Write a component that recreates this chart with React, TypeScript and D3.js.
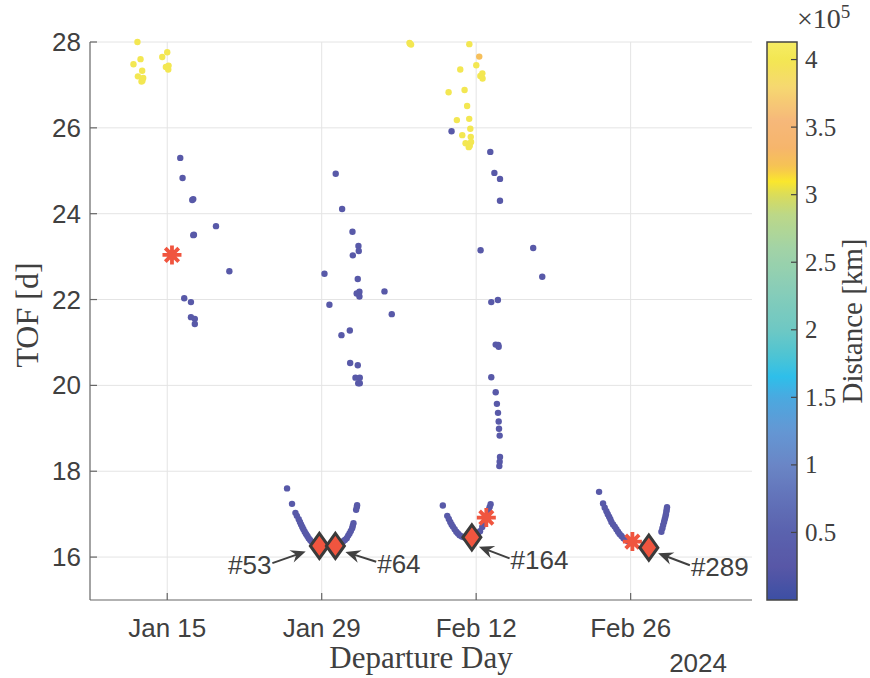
import React from "react";
import * as d3 from "d3";

// Departure day is counted as day-of-year 2024 (Jan 1 = 1), TOF in days, distance in km.
const xTickDays = [15, 29, 43, 57];
const xTickLabels = ["Jan 15", "Jan 29", "Feb 12", "Feb 26"];
const yTicks = [16, 18, 20, 22, 24, 26, 28];
const cbarTicks = [0.5, 1, 1.5, 2, 2.5, 3, 3.5, 4];

// Far-side transfers (large distance)
const farPoints: [number, number, number][] = [
  [12.3, 28.0, 4.0e5], [15.0, 27.76, 4.0e5], [14.55, 27.65, 4.0e5], [12.58, 27.6, 4.0e5],
  [11.94, 27.48, 4.0e5], [15.12, 27.45, 4.0e5], [14.88, 27.42, 4.0e5], [15.09, 27.36, 4.0e5],
  [12.73, 27.33, 4.0e5], [12.34, 27.2, 4.0e5], [12.82, 27.16, 4.0e5], [12.67, 27.08, 4.0e5],
  [12.75, 27.1, 4.0e5],
  [36.96, 27.98, 4.0e5], [37.1, 27.94, 4.0e5], [37.0, 27.96, 4.0e5],
  [42.38, 27.95, 4.0e5], [43.28, 27.66, 3.25e5], [43.01, 27.46, 4.0e5], [43.56, 27.27, 4.0e5],
  [43.38, 27.21, 4.0e5], [43.58, 27.15, 4.0e5], [41.56, 27.36, 4.0e5], [41.95, 26.88, 4.0e5],
  [40.5, 26.83, 4.0e5], [42.18, 26.51, 4.0e5], [42.37, 26.21, 4.0e5], [41.25, 26.18, 4.0e5],
  [42.47, 25.98, 4.0e5], [41.74, 25.83, 4.0e5], [42.51, 25.79, 4.0e5], [42.04, 25.64, 4.0e5],
  [42.54, 25.67, 4.0e5], [42.33, 25.55, 4.0e5], [42.42, 25.58, 4.0e5],
];

// Near transfers, scattered branches
const nearScatter: [number, number, number][] = [
  [16.18, 25.3, 3.0e4], [16.39, 24.83, 3.0e4], [17.36, 24.34, 3.0e4], [17.27, 24.32, 3.0e4],
  [19.42, 23.71, 3.0e4], [17.42, 23.51, 3.0e4], [17.36, 23.5, 3.0e4], [20.63, 22.66, 3.0e4],
  [16.54, 22.03, 3.0e4], [17.15, 21.94, 3.0e4], [17.15, 21.59, 3.0e4], [17.5, 21.55, 3.0e4],
  [17.5, 21.43, 3.0e4],
  [30.27, 24.93, 3.0e4], [30.85, 24.11, 3.0e4], [31.79, 23.58, 3.0e4], [32.33, 23.25, 3.0e4],
  [32.36, 23.13, 3.0e4], [31.82, 23.03, 3.0e4], [29.25, 22.6, 3.0e4], [32.27, 22.48, 3.0e4],
  [34.69, 22.19, 3.0e4], [32.42, 22.18, 3.0e4], [32.17, 22.14, 3.0e4], [32.42, 22.07, 3.0e4],
  [29.7, 21.88, 3.0e4], [35.35, 21.66, 3.0e4], [31.55, 21.28, 3.0e4], [30.79, 21.17, 3.0e4],
  [31.58, 20.52, 3.0e4], [32.27, 20.47, 3.0e4], [32.06, 20.18, 3.0e4], [32.45, 20.18, 3.0e4],
  [32.31, 20.05, 3.0e4], [32.45, 20.05, 3.0e4],
  [40.77, 25.92, 3.0e4], [44.28, 25.44, 3.0e4], [44.65, 24.95, 3.0e4], [45.16, 24.81, 3.0e4],
  [45.16, 24.3, 3.0e4], [43.4, 23.15, 3.0e4], [48.17, 23.2, 3.0e4], [48.99, 22.53, 3.0e4],
  [44.37, 21.94, 3.0e4], [44.97, 21.99, 3.0e4], [44.77, 20.95, 3.0e4], [45.04, 20.9, 3.0e4],
  [45.0, 20.94, 3.0e4], [44.37, 20.19, 3.0e4], [44.77, 19.84, 3.0e4], [44.88, 19.57, 3.0e4],
  [44.98, 19.36, 3.0e4], [45.04, 19.16, 3.0e4], [45.07, 18.99, 3.0e4], [45.13, 18.83, 3.0e4],
  [45.16, 18.33, 3.0e4], [45.13, 18.22, 3.0e4], [45.1, 18.12, 3.0e4],
];

// Near transfers, minimum-TOF valleys
const nearValley: [number, number, number][] = [
  [25.86, 17.6, 3.0e4], [26.31, 17.24, 3.0e4], [26.62, 17.03, 3.0e4], [26.75, 16.96, 3.0e4],
  [26.92, 16.88, 3.0e4], [27.03, 16.82, 3.0e4], [27.13, 16.76, 3.0e4], [27.24, 16.7, 3.0e4],
  [27.34, 16.65, 3.0e4], [27.46, 16.59, 3.0e4], [27.58, 16.54, 3.0e4], [27.7, 16.49, 3.0e4],
  [27.82, 16.44, 3.0e4], [27.95, 16.4, 3.0e4], [28.07, 16.36, 3.0e4], [28.2, 16.33, 3.0e4],
  [28.34, 16.31, 3.0e4], [28.61, 16.27, 3.0e4],
  [30.95, 16.37, 3.0e4], [31.1, 16.4, 3.0e4], [31.27, 16.44, 3.0e4], [31.4, 16.5, 3.0e4],
  [31.52, 16.55, 3.0e4], [31.64, 16.61, 3.0e4], [31.76, 16.67, 3.0e4], [31.82, 16.73, 3.0e4],
  [31.88, 16.79, 3.0e4], [32.12, 17.1, 3.0e4], [32.18, 17.16, 3.0e4], [32.21, 17.21, 3.0e4],
  [39.98, 17.2, 3.0e4], [40.38, 16.96, 3.0e4], [40.52, 16.89, 3.0e4], [40.65, 16.82, 3.0e4],
  [40.77, 16.76, 3.0e4], [40.89, 16.71, 3.0e4], [41.05, 16.65, 3.0e4], [41.2, 16.59, 3.0e4],
  [41.35, 16.55, 3.0e4], [41.5, 16.51, 3.0e4], [41.7, 16.48, 3.0e4], [41.9, 16.46, 3.0e4],
  [44.31, 17.23, 3.0e4], [44.22, 17.16, 3.0e4], [44.13, 17.1, 3.0e4], [43.95, 16.95, 3.0e4],
  [43.75, 16.82, 3.0e4], [43.55, 16.7, 3.0e4], [43.35, 16.6, 3.0e4], [43.15, 16.53, 3.0e4],
  [42.95, 16.49, 3.0e4],
  [54.14, 17.52, 3.0e4], [54.5, 17.25, 3.0e4], [54.65, 17.15, 3.0e4], [54.81, 17.07, 3.0e4],
  [54.93, 17.0, 3.0e4], [55.05, 16.94, 3.0e4], [55.16, 16.88, 3.0e4], [55.26, 16.82, 3.0e4],
  [55.41, 16.76, 3.0e4], [55.56, 16.71, 3.0e4], [55.71, 16.65, 3.0e4], [55.86, 16.59, 3.0e4],
  [56.0, 16.54, 3.0e4], [56.17, 16.49, 3.0e4], [56.35, 16.44, 3.0e4], [56.55, 16.4, 3.0e4],
  [56.75, 16.37, 3.0e4],
  [60.3, 17.16, 3.0e4], [60.27, 17.11, 3.0e4], [60.24, 17.06, 3.0e4], [60.2, 17.0, 3.0e4],
  [60.15, 16.94, 3.0e4], [60.09, 16.88, 3.0e4], [60.03, 16.82, 3.0e4], [59.95, 16.75, 3.0e4],
  [59.88, 16.67, 3.0e4], [59.79, 16.59, 3.0e4],
];

// Per-window optimum (asterisk) and selected solutions (diamond)
const optimumDays = [15.43, 43.92, 57.16];
const optimumTofs = [23.04, 16.92, 16.36];
const selectedDays = [28.79, 30.24, 42.61, 58.65];
const selectedTofs = [16.26, 16.26, 16.46, 16.22];

// Labels for selected solutions: arrow head and tail in data units
const annotLabels = ["#53", "#64", "#164", "#289"];
const annotHead: [number, number][] = [[27.55, 16.13], [31.15, 16.12], [43.25, 16.24], [59.49, 16.09]];
const annotTail: [number, number][] = [[24.53, 15.86], [33.94, 15.89], [46.03, 15.97], [62.37, 15.81]];

// Distance colour map (units of 1e5 km)
const cmapStops = [0, 0.25, 0.5, 0.75, 1.0, 1.25, 1.5, 1.65, 1.8, 2.0, 2.3, 2.6, 2.85, 3.0, 3.1, 3.2, 3.35, 3.55, 3.8, 4.0, 4.13];
const cmapColors = ["#3c4fa4", "#5857a7", "#5a62ae", "#6272b9", "#6a86c6", "#6497d4", "#4aa9e0", "#2ebfea", "#4cc4d4", "#6ec8c4", "#88cdb8", "#a2d3a6", "#bcd888", "#dadc5a", "#fbe72c", "#f6c452", "#f6b56c", "#f6b87a", "#f6d870", "#f3e752", "#f6ec64"];

const W = 870;
const H = 678;
const M = { left: 90, right: 752, top: 42, bottom: 600 };
const CB = { x: 767, w: 30 };

const dayToDate = (d: number) => new Date(new Date(2024, 0, 1).getTime() + (d - 1) * 86400000);

const SANS = "'Liberation Sans', Arial, Helvetica, sans-serif";
const SERIF = "'Liberation Serif', 'Times New Roman', serif";
const TXT = "#404040";
const RED = "#f0553f";

export default function App() {
  const x = d3.scaleTime().domain([new Date(2024, 0, 8), new Date(2024, 2, 8)]).range([M.left, M.right]);
  const y = d3.scaleLinear().domain([15, 28]).range([M.bottom, M.top]);
  const cbY = d3.scaleLinear().domain([0, 4.13]).range([M.bottom, M.top]);
  const cmap = d3.scaleLinear<string>().domain(cmapStops).range(cmapColors).interpolate(d3.interpolateRgb).clamp(true);

  const px = (d: number) => x(dayToDate(d));

  const gradStops = d3.range(0, 101).map((i) => {
    const v = (4.13 * i) / 100;
    return { offset: `${i}%`, color: cmap(v) };
  });

  const allPoints = [...farPoints, ...nearScatter, ...nearValley];

  const asterisk = (cx: number, cy: number, r: number) => {
    const segs: string[] = [];
    for (let k = 0; k < 4; k++) {
      const a = (k * Math.PI) / 4;
      const dx = Math.cos(a) * r;
      const dy = Math.sin(a) * r;
      segs.push(`M${cx - dx},${cy - dy}L${cx + dx},${cy + dy}`);
    }
    return segs.join("");
  };

  const arrowHead = (hx: number, hy: number, tx: number, ty: number) => {
    const ang = Math.atan2(hy - ty, hx - tx);
    const L = 15, hw = 6.5, notch = 10;
    const rot = (u: number, v: number) => [hx + u * Math.cos(ang) - v * Math.sin(ang), hy + u * Math.sin(ang) + v * Math.cos(ang)];
    const p1 = rot(0, 0), p2 = rot(-L, -hw), p3 = rot(-notch, 0), p4 = rot(-L, hw);
    return `M${p1[0]},${p1[1]}L${p2[0]},${p2[1]}L${p3[0]},${p3[1]}L${p4[0]},${p4[1]}Z`;
  };

  return (
    <svg width={W} height={H} style={{ position: "absolute", left: 0, top: 0, background: "#fff" }}>
      <defs>
        <linearGradient id="cbar" x1="0" y1="1" x2="0" y2="0">
          {gradStops.map((s, i) => (
            <stop key={i} offset={s.offset} stopColor={s.color} />
          ))}
        </linearGradient>
      </defs>

      {/* grid */}
      <g stroke="#e4e4e4" strokeWidth={1}>
        {yTicks.map((t) => (
          <line key={t} x1={M.left} x2={M.right} y1={y(t)} y2={y(t)} />
        ))}
        {xTickDays.map((t) => (
          <line key={t} x1={px(t)} x2={px(t)} y1={M.top} y2={M.bottom} />
        ))}
      </g>

      {/* scatter */}
      <g>
        {allPoints.map((p, i) => (
          <circle key={i} cx={px(p[0])} cy={y(p[1])} r={3.2} fill={cmap(p[2] / 1e5)} />
        ))}
      </g>

      {/* optimum markers */}
      <g stroke={RED} strokeWidth={3.8} fill="none">
        {optimumDays.map((d, i) => (
          <path key={i} d={asterisk(px(d), y(optimumTofs[i]), 9.5)} />
        ))}
      </g>

      {/* selected solutions */}
      <g>
        {selectedDays.map((d, i) => {
          const cx = px(d), cy = y(selectedTofs[i]);
          return (
            <g key={i}>
              <path d={`M${cx},${cy - 12.5}L${cx + 9},${cy}L${cx},${cy + 12.5}L${cx - 9},${cy}Z`} fill={RED} stroke="#3a3a3a" strokeWidth={3} strokeLinejoin="miter" />
            </g>
          );
        })}
      </g>

      {/* annotations */}
      <g>
        {annotLabels.map((lab, i) => {
          const hx = px(annotHead[i][0]), hy = y(annotHead[i][1]);
          const tx = px(annotTail[i][0]), ty = y(annotTail[i][1]);
          const leftSide = tx < hx;
          return (
            <g key={lab}>
              <line x1={tx} y1={ty} x2={hx + (tx - hx) * 0.25} y2={hy + (ty - hy) * 0.25} stroke="#404040" strokeWidth={2} />
              <path d={arrowHead(hx, hy, tx, ty)} fill="#404040" />
              <text x={leftSide ? tx - 1 : tx + 1} y={ty + 2} textAnchor={leftSide ? "end" : "start"} dominantBaseline="central" fontFamily={SANS} fontSize={26} fill={TXT}>
                {lab}
              </text>
            </g>
          );
        })}
      </g>

      {/* axes */}
      <g stroke="#666" strokeWidth={1.2}>
        <line x1={M.left} x2={M.left} y1={M.top} y2={M.bottom} />
        <line x1={M.left} x2={M.right} y1={M.bottom} y2={M.bottom} />
        {yTicks.map((t) => (
          <line key={t} x1={M.left} x2={M.left + 7} y1={y(t)} y2={y(t)} />
        ))}
        {xTickDays.map((t) => (
          <line key={t} x1={px(t)} x2={px(t)} y1={M.bottom} y2={M.bottom - 7} />
        ))}
      </g>
      <g fontFamily={SANS} fontSize={26} fill={TXT}>
        {yTicks.map((t) => (
          <text key={t} x={M.left - 9} y={y(t)} textAnchor="end" dominantBaseline="central">
            {t}
          </text>
        ))}
        {xTickDays.map((t, i) => (
          <text key={t} x={px(t)} y={M.bottom + 28} textAnchor="middle" dominantBaseline="central">
            {xTickLabels[i]}
          </text>
        ))}
        <text x={727} y={663} textAnchor="end" dominantBaseline="central">2024</text>
      </g>
      <text x={(M.left + M.right) / 2} y={668} textAnchor="middle" fontFamily={SERIF} fontSize={31} fill={TXT}>
        Departure Day
      </text>
      <text transform={`translate(27,${(M.top + M.bottom) / 2 - 6}) rotate(-90)`} textAnchor="middle" dominantBaseline="central" fontFamily={SERIF} fontSize={32} fill={TXT}>
        TOF [d]
      </text>

      {/* colorbar */}
      <rect x={CB.x} y={M.top} width={CB.w} height={M.bottom - M.top} fill="url(#cbar)" stroke="#444" strokeWidth={1.5} />
      <g stroke="#444" strokeWidth={1.2}>
        {cbarTicks.map((t) => (
          <line key={t} x1={CB.x + CB.w - 6} x2={CB.x + CB.w} y1={cbY(t)} y2={cbY(t)} />
        ))}
      </g>
      <g fontFamily={SERIF} fontSize={25} fill={TXT}>
        {cbarTicks.map((t) => (
          <text key={t} x={CB.x + CB.w + 8} y={cbY(t)} dominantBaseline="central">
            {t}
          </text>
        ))}
        <text x={797} y={28} fontSize={28}>
          ×10<tspan fontSize={19} dy={-10}>5</tspan>
        </text>
      </g>
      <text transform={`translate(852,${(M.top + M.bottom) / 2}) rotate(-90)`} textAnchor="middle" dominantBaseline="central" fontFamily={SERIF} fontSize={29} fill={TXT}>
        Distance [km]
      </text>
    </svg>
  );
}
